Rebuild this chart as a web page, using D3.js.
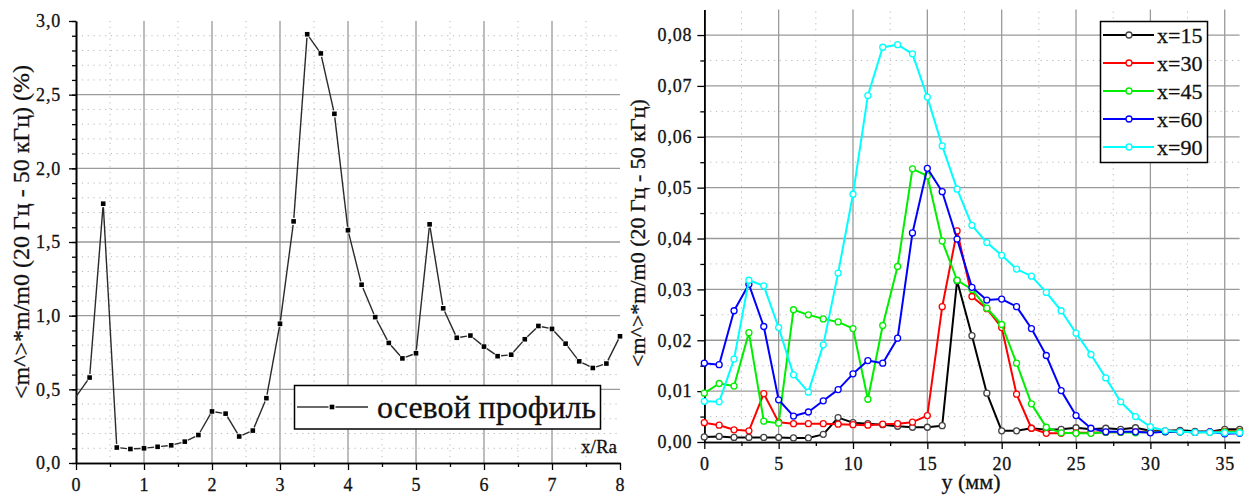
<!DOCTYPE html>
<html>
<head>
<meta charset="utf-8">
<script src="https://cdn.jsdelivr.net/npm/d3@7"></script>
<style>
  body { margin: 0; background: #fff; }
  svg { display: block; }
  text { font-family: "Liberation Serif", "Times New Roman", serif !important; fill: #111; stroke: #111; stroke-width: 0.3px; }
</style>
</head>
<body>
<svg id="chart" width="1253" height="496"></svg>
<script>
// ---- Left panel: axial profile along x/Ra ----
const axialX = [0, 0.2, 0.4, 0.6, 0.8, 1.0, 1.2, 1.4, 1.6, 1.8, 2.0, 2.2, 2.4, 2.6, 2.8, 3.0,
  3.2, 3.4, 3.6, 3.8, 4.0, 4.2, 4.4, 4.6, 4.8, 5.0, 5.2, 5.4, 5.6, 5.8, 6.0, 6.2, 6.4, 6.6,
  6.8, 7.0, 7.2, 7.4, 7.6, 7.8, 8.0];
const axialY = [0.45, 0.58, 1.76, 0.105, 0.095, 0.10, 0.11, 0.12, 0.145, 0.19, 0.35, 0.335,
  0.18, 0.22, 0.44, 0.945, 1.64, 2.91, 2.78, 2.37, 1.58, 1.21, 0.99, 0.815, 0.71, 0.745, 1.62,
  1.05, 0.85, 0.865, 0.79, 0.725, 0.735, 0.84, 0.93, 0.91, 0.81, 0.69, 0.645, 0.675, 0.86];
const axialTicksX = [0, 1, 2, 3, 4, 5, 6, 7, 8];
const axialTicksY = [0, 0.5, 1.0, 1.5, 2.0, 2.5, 3.0];
const axialLegend = "осевой профиль";
const axialXTitle = "x/Ra";
const axialYTitle = "<m^>*m/m0 (20 Гц - 50 кГц) (%)";

// ---- Right panel: radial profiles at several x ----
const radialY = [0, 1, 2, 3, 4, 5, 6, 7, 8, 9, 10, 11, 12, 13, 14, 15, 16, 17, 18, 19, 20,
  21, 22, 23, 24, 25, 26, 27, 28, 29, 30, 31, 32, 33, 34, 35, 36];
const seriesNames = ["x=15", "x=30", "x=45", "x=60", "x=90"];
const seriesColors = ["#000000", "#ff0000", "#00ee00", "#0000ff", "#00ffff"];
const markerColors = ["#444444", "#ff0000", "#00ee00", "#0000ff", "#00ffff"];
const x15 = [0.0010, 0.0011, 0.0009, 0.0009, 0.0009, 0.0009, 0.0008, 0.0008, 0.0015, 0.0048,
  0.0038, 0.0036, 0.0034, 0.0031, 0.0029, 0.0029, 0.0032, 0.0317, 0.0209, 0.0096, 0.0022,
  0.0022, 0.0027, 0.0024, 0.0025, 0.0028, 0.0025, 0.0027, 0.0025, 0.0028, 0.0022, 0.0022,
  0.0023, 0.0021, 0.0020, 0.0025, 0.0025];
const x30 = [0.0038, 0.0033, 0.0024, 0.0022, 0.0095, 0.0039, 0.0036, 0.0036, 0.0036, 0.0035,
  0.0034, 0.0033, 0.0035, 0.0036, 0.0039, 0.0052, 0.0266, 0.0415, 0.0286, 0.0262, 0.0225,
  0.0094, 0.0027, 0.0017, 0.0017, 0.0018, 0.0018, 0.0019, 0.0019, 0.0020, 0.0020, 0.0021,
  0.0020, 0.0019, 0.0020, 0.0021, 0.0021];
const x45 = [0.0096, 0.0115, 0.0110, 0.0215, 0.0041, 0.0037, 0.0260, 0.0250, 0.0242, 0.0236,
  0.0223, 0.0084, 0.0229, 0.0345, 0.0537, 0.0523, 0.0395, 0.0318, 0.0300, 0.0263, 0.0231,
  0.0155, 0.0075, 0.0029, 0.0018, 0.0017, 0.0017, 0.0019, 0.0019, 0.0018, 0.0020, 0.0020,
  0.0020, 0.0019, 0.0019, 0.0020, 0.0020];
const x60 = [0.0155, 0.0152, 0.0258, 0.0310, 0.0227, 0.0083, 0.0051, 0.0059, 0.0081, 0.0103,
  0.0134, 0.0160, 0.0155, 0.0204, 0.0411, 0.0538, 0.0492, 0.0399, 0.0304, 0.0279, 0.0281,
  0.0266, 0.0223, 0.0170, 0.0101, 0.0052, 0.0027, 0.0020, 0.0020, 0.0020, 0.0018, 0.0020,
  0.0020, 0.0019, 0.0020, 0.0016, 0.0017];
const x90 = [0.0080, 0.0079, 0.0163, 0.0318, 0.0307, 0.0225, 0.0132, 0.0098, 0.0191, 0.0332,
  0.0487, 0.0681, 0.0776, 0.0781, 0.0763, 0.0678, 0.0582, 0.0497, 0.0426, 0.0392, 0.0367,
  0.0340, 0.0326, 0.0294, 0.0258, 0.0214, 0.0172, 0.0126, 0.0079, 0.0050, 0.0030, 0.0022,
  0.0020, 0.0019, 0.0019, 0.0018, 0.0018];
const radialTicksX = [0, 5, 10, 15, 20, 25, 30, 35];
const radialTicksY = [0, 0.01, 0.02, 0.03, 0.04, 0.05, 0.06, 0.07, 0.08];
const radialXTitle = "y (мм)";
const radialYTitle = "<m^>*m/m0 (20 Гц - 50 кГц)";

const svg = d3.select("#chart");
const comma = (digits) => (v) => d3.format("." + digits + "f")(v).replace(".", ",");

function grid(g, xs, ys, xMajor, xMinor, yMajor, yMinor) {
  const [x0, x1] = xs.range();
  const [y0, y1] = ys.range();
  g.selectAll(".vmin").data(xMinor).join("line")
    .attr("x1", d => xs(d)).attr("x2", d => xs(d)).attr("y1", y0).attr("y2", y1)
    .attr("stroke", "#b8b8b8").attr("stroke-width", 1).attr("stroke-dasharray", "1.2,4.6");
  g.selectAll(".hmin").data(yMinor).join("line")
    .attr("y1", d => ys(d)).attr("y2", d => ys(d)).attr("x1", x0).attr("x2", x1)
    .attr("stroke", "#b8b8b8").attr("stroke-width", 1).attr("stroke-dasharray", "1.2,4.6");
  g.selectAll(".vmaj").data(xMajor).join("line")
    .attr("x1", d => xs(d)).attr("x2", d => xs(d)).attr("y1", y0).attr("y2", y1)
    .attr("stroke", "#9a9a9a").attr("stroke-width", 1.3);
  g.selectAll(".hmaj").data(yMajor).join("line")
    .attr("y1", d => ys(d)).attr("y2", d => ys(d)).attr("x1", x0).attr("x2", x1)
    .attr("stroke", "#9a9a9a").attr("stroke-width", 1.3);
}

function styleAxis(g) {
  g.attr("font-family", null);
  g.select(".domain").attr("stroke", "#000").attr("stroke-width", 1.6);
  g.selectAll(".tick line").attr("stroke", "#000").attr("stroke-width", 1.3);
  g.selectAll("text").attr("font-size", 18).attr("letter-spacing", 0.8).attr("fill", "#111");
}

// =================== Left panel ===================
const xL = d3.scaleLinear().domain([0, 8]).range([76, 620]);
const yL = d3.scaleLinear().domain([0, 3]).range([463, 21]);
const left = svg.append("g");

grid(left.append("g"), xL, yL,
  axialTicksX.filter(d => d > 0 && d < 8),
  d3.range(0.5, 8, 1),
  axialTicksY.filter(d => d > 0 && d < 3),
  d3.range(1, 30).map(i => i / 10).filter(d => Math.abs(d * 2 - Math.round(d * 2)) > 1e-6));

// minor ticks
left.append("g").attr("transform", `translate(0,${yL(0)})`)
  .call(d3.axisBottom(xL).tickValues(d3.range(0.5, 8, 1)).tickSize(4).tickSizeOuter(0).tickFormat(""))
  .call(styleAxis);
left.append("g").attr("transform", `translate(${xL(0)},0)`)
  .call(d3.axisLeft(yL).tickValues(d3.range(0, 31).map(i => i / 10)).tickSize(4).tickSizeOuter(0).tickFormat(""))
  .call(styleAxis);
// major ticks + labels
left.append("g").attr("transform", `translate(0,${yL(0)})`)
  .call(d3.axisBottom(xL).tickValues(axialTicksX).tickSize(7).tickSizeOuter(0).tickPadding(8).tickFormat(d3.format("d")))
  .call(styleAxis);
left.append("g").attr("transform", `translate(${xL(0)},0)`)
  .call(d3.axisLeft(yL).tickValues(axialTicksY).tickSize(7).tickSizeOuter(0).tickPadding(8).tickFormat(comma(1)))
  .call(styleAxis);

// line with small gaps around the square markers
const pts = axialX.map((x, i) => ({ x: xL(x), y: yL(axialY[i]), mark: x > 0 }));
const gap = 3.5;
const segs = [];
for (let i = 0; i < pts.length - 1; i++) {
  const a = pts[i], b = pts[i + 1];
  const dx = b.x - a.x, dy = b.y - a.y, len = Math.hypot(dx, dy);
  const ga = a.mark ? gap : 0, gb = b.mark ? gap : 0;
  if (len <= ga + gb) continue;
  segs.push({
    x1: a.x + dx * ga / len, y1: a.y + dy * ga / len,
    x2: b.x - dx * gb / len, y2: b.y - dy * gb / len
  });
}
left.append("g").selectAll("line").data(segs).join("line")
  .attr("x1", d => d.x1).attr("y1", d => d.y1).attr("x2", d => d.x2).attr("y2", d => d.y2)
  .attr("stroke", "#2a2a2a").attr("stroke-width", 1.4);
left.append("g").selectAll("rect").data(pts.filter(p => p.mark)).join("rect")
  .attr("x", d => d.x - 2.3).attr("y", d => d.y - 2.3).attr("width", 4.6).attr("height", 4.6)
  .attr("fill", "#000");

// legend
const lg = left.append("g");
lg.append("rect").attr("x", 294.5).attr("y", 385.5).attr("width", 306).attr("height", 43.5)
  .attr("fill", "#fff").attr("stroke", "#000").attr("stroke-width", 1.5);
lg.append("line").attr("x1", 297).attr("x2", 328.5).attr("y1", 407).attr("y2", 407).attr("stroke", "#2a2a2a").attr("stroke-width", 1.4);
lg.append("line").attr("x1", 335.5).attr("x2", 368).attr("y1", 407).attr("y2", 407).attr("stroke", "#2a2a2a").attr("stroke-width", 1.4);
lg.append("rect").attr("x", 329.7).attr("y", 404.7).attr("width", 4.6).attr("height", 4.6).attr("fill", "#000");
lg.append("text").attr("x", 377).attr("y", 418).attr("font-size", 32).text(axialLegend);

left.append("text").attr("x", 617).attr("y", 453).attr("text-anchor", "end").attr("font-size", 19).text(axialXTitle);
left.append("text").attr("transform", "translate(29,232) rotate(-90)").attr("text-anchor", "middle")
  .attr("font-size", 24).text(axialYTitle);

// =================== Right panel ===================
const xR = d3.scaleLinear().domain([0, 36]).range([704.3, 1239.6]);
const yR = d3.scaleLinear().domain([0, 0.085]).range([442, 9.6]);
const right = svg.append("g");

grid(right.append("g"), xR, yR,
  radialTicksX.filter(d => d > 0),
  d3.range(2.5, 36, 5),
  radialTicksY.filter(d => d > 0),
  d3.range(0.005, 0.085, 0.01));

right.append("g").attr("transform", `translate(0,${yR(0)})`)
  .call(d3.axisBottom(xR).tickValues(d3.range(2.5, 36, 5)).tickSize(4).tickSizeOuter(0).tickFormat(""))
  .call(styleAxis);
right.append("g").attr("transform", `translate(${xR(0)},0)`)
  .call(d3.axisLeft(yR).tickValues(d3.range(0.005, 0.085, 0.01)).tickSize(4).tickSizeOuter(0).tickFormat(""))
  .call(styleAxis);
right.append("g").attr("transform", `translate(0,${yR(0)})`)
  .call(d3.axisBottom(xR).tickValues(radialTicksX).tickSize(7).tickSizeOuter(0).tickPadding(8).tickFormat(d3.format("d")))
  .call(styleAxis);
right.append("g").attr("transform", `translate(${xR(0)},0)`)
  .call(d3.axisLeft(yR).tickValues(radialTicksY).tickSize(7).tickSizeOuter(0).tickPadding(5).tickFormat(comma(2)))
  .call(styleAxis);

const radialSeries = [x15, x30, x45, x60, x90];
const lineR = d3.line().x((d, i) => xR(radialY[i])).y(d => yR(d));
radialSeries.forEach((vals, k) => {
  const g = right.append("g");
  g.append("path").attr("d", lineR(vals)).attr("fill", "none")
    .attr("stroke", seriesColors[k]).attr("stroke-width", 2).attr("stroke-linejoin", "round");
  g.selectAll("circle").data(vals).join("circle")
    .attr("cx", (d, i) => xR(radialY[i])).attr("cy", d => yR(d)).attr("r", 3)
    .attr("fill", "#fff").attr("stroke", markerColors[k]).attr("stroke-width", 1.3);
});

// legend
const rl = right.append("g");
rl.append("rect").attr("x", 1100.5).attr("y", 21.5).attr("width", 107).attr("height", 141)
  .attr("fill", "#fff").attr("stroke", "#000").attr("stroke-width", 1.5);
seriesNames.forEach((name, k) => {
  const yy = 35 + k * 28;
  rl.append("line").attr("x1", 1103).attr("x2", 1154).attr("y1", yy).attr("y2", yy)
    .attr("stroke", seriesColors[k]).attr("stroke-width", 2.2);
  rl.append("circle").attr("cx", 1129).attr("cy", yy).attr("r", 3)
    .attr("fill", "#fff").attr("stroke", markerColors[k]).attr("stroke-width", 1.3);
  rl.append("text").attr("x", 1157).attr("y", yy + 7.5).attr("font-size", 22).text(name);
});

right.append("text").attr("x", 971).attr("y", 489).attr("text-anchor", "middle").attr("font-size", 22).text(radialXTitle);
right.append("text").attr("transform", "translate(645,233) rotate(-90)").attr("text-anchor", "middle")
  .attr("font-size", 22).text(radialYTitle);
</script>
</body>
</html>
